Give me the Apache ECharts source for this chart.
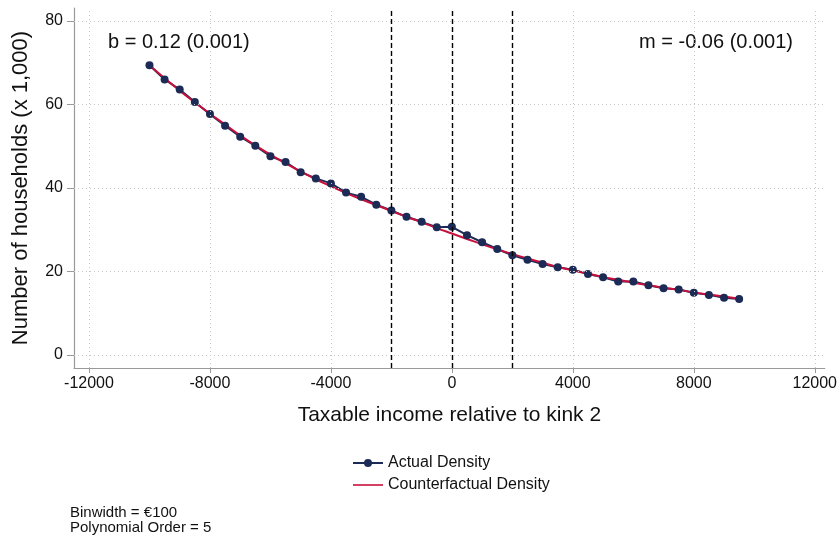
<!DOCTYPE html>
<html>
<head>
<meta charset="utf-8">
<script src="https://cdn.jsdelivr.net/npm/echarts@6/dist/echarts.min.js"></script>
<style>html,body{margin:0;padding:0;background:#fff}#c{width:840px;height:539px}</style>
</head>
<body>
<div id="c"></div>
<script>
var bins = [-10000,-9500,-9000,-8500,-8000,-7500,-7000,-6500,-6000,-5500,-5000,-4500,-4000,-3500,-3000,-2500,-2000,-1500,-1000,-500,0,500,1000,1500,2000,2500,3000,3500,4000,4500,5000,5500,6000,6500,7000,7500,8000,8500,9000,9500];
var actual = [69.4,66.0,63.6,60.6,57.7,54.9,52.3,50.1,47.6,46.2,43.8,42.3,41.1,38.9,37.9,36.0,34.6,33.1,31.9,30.6,30.7,28.7,27.0,25.4,23.9,22.8,21.8,21.0,20.4,19.4,18.6,17.6,17.6,16.7,16.0,15.7,14.9,14.4,13.7,13.4];
var counterfactual = [69.4,66.3,63.3,60.5,57.8,55.2,52.6,50.2,48.0,45.9,44.0,42.1,40.4,38.8,37.3,35.9,34.5,33.1,31.8,30.4,29.1,27.8,26.5,25.3,24.2,23.1,22.1,21.1,20.3,19.5,18.7,18.0,17.3,16.7,16.1,15.6,15.0,14.5,14.0,13.5];
var xTicks = [-12000,-8000,-4000,0,4000,8000,12000];
var yTicks = [0,20,40,60,80];
var kinkLines = [-2000,0,2000];
var bText = 'b = 0.12 (0.001)';
var mText = 'm = -0.06 (0.001)';
var notes = ['Binwidth = \u20ac100','Polynomial Order = 5'];

var FONT = '"Liberation Sans", Arial, sans-serif';
var chart = echarts.init(document.getElementById('c'));
var gridLines = [];
yTicks.forEach(function(v){ gridLines.push({yAxis: v}); });
xTicks.forEach(function(v){ gridLines.push({xAxis: v}); });

chart.setOption({
  animation: false,
  textStyle: {fontFamily: FONT},
  grid: {left: 74, right: 15, top: 8, bottom: 171},
  xAxis: {
    type: 'value', min: -12495.9, max: 12330.6,
    name: 'Taxable income relative to kink 2', nameLocation: 'middle', nameGap: 37,
    nameTextStyle: {fontSize: 21, color: '#111', fontFamily: FONT},
    axisLine: {onZero: false, lineStyle: {color: '#999', width: 1.2}},
    axisTick: {show: true, length: 5, customValues: xTicks, lineStyle: {color: '#999'}},
    axisLabel: {customValues: xTicks, fontSize: 16, color: '#111', margin: 8, fontFamily: FONT,
      formatter: function(v){ return String(v); }},
    splitLine: {show: false}
  },
  yAxis: {
    type: 'value', min: -3.114, max: 83.114,
    name: 'Number of households (x 1,000)', nameLocation: 'middle', nameGap: 42,
    nameTextStyle: {fontSize: 22, color: '#111', fontFamily: FONT},
    axisLine: {show: true, onZero: false, lineStyle: {color: '#999', width: 1.2}},
    axisTick: {show: true, length: 7, customValues: yTicks, lineStyle: {color: '#999'}},
    axisLabel: {customValues: yTicks, fontSize: 16, color: '#111', margin: 11, fontFamily: FONT,
      formatter: function(v){ return String(v); }},
    splitLine: {show: false}
  },
  legend: {
    orient: 'vertical', left: 347, top: 450, itemWidth: 30, itemHeight: 10, itemGap: 6,
    textStyle: {fontSize: 16, color: '#111', fontFamily: FONT},
    data: [
      {name: 'Actual Density'},
      {name: 'Counterfactual Density', icon: 'path://M0 0 L30 0 L30 1.6 L0 1.6 Z'}
    ]
  },
  series: [
    {
      type: 'line', name: 'grid', data: [], silent: true,
      markLine: {silent: true, symbol: 'none', label: {show: false},
        lineStyle: {color: '#c8c8c8', type: [1, 3], width: 1}, data: gridLines}
    },
    {
      type: 'line', name: 'kinks', data: [], silent: true,
      markLine: {silent: true, symbol: 'none', label: {show: false},
        lineStyle: {color: '#000', type: [5, 3], width: 1.4},
        data: kinkLines.map(function(v){ return {xAxis: v}; })}
    },
    {
      type: 'line', name: 'Actual Density',
      data: bins.map(function(b, i){ return [b, actual[i]]; }),
      symbol: 'circle', symbolSize: 8, showSymbol: true,
      itemStyle: {color: '#1c2b56'}, lineStyle: {color: '#1c2b56', width: 2}
    },
    {
      type: 'line', name: 'Counterfactual Density',
      data: bins.map(function(b, i){ return [b, counterfactual[i]]; }),
      symbol: 'none', smooth: true,
      itemStyle: {color: '#c8103c'}, lineStyle: {color: '#c8103c', width: 2}
    }
  ],
  graphic: [
    {type: 'text', left: 108, top: 32, style: {text: bText, fontSize: 20, fill: '#111', fontFamily: FONT}},
    {type: 'text', right: 47, top: 32, style: {text: mText, fontSize: 20, fill: '#111', fontFamily: FONT}},
    {type: 'text', left: 70, top: 505, style: {text: notes.join('\n'), fontSize: 15, lineHeight: 15, fill: '#111', fontFamily: FONT}}
  ]
});
</script>
</body>
</html>
